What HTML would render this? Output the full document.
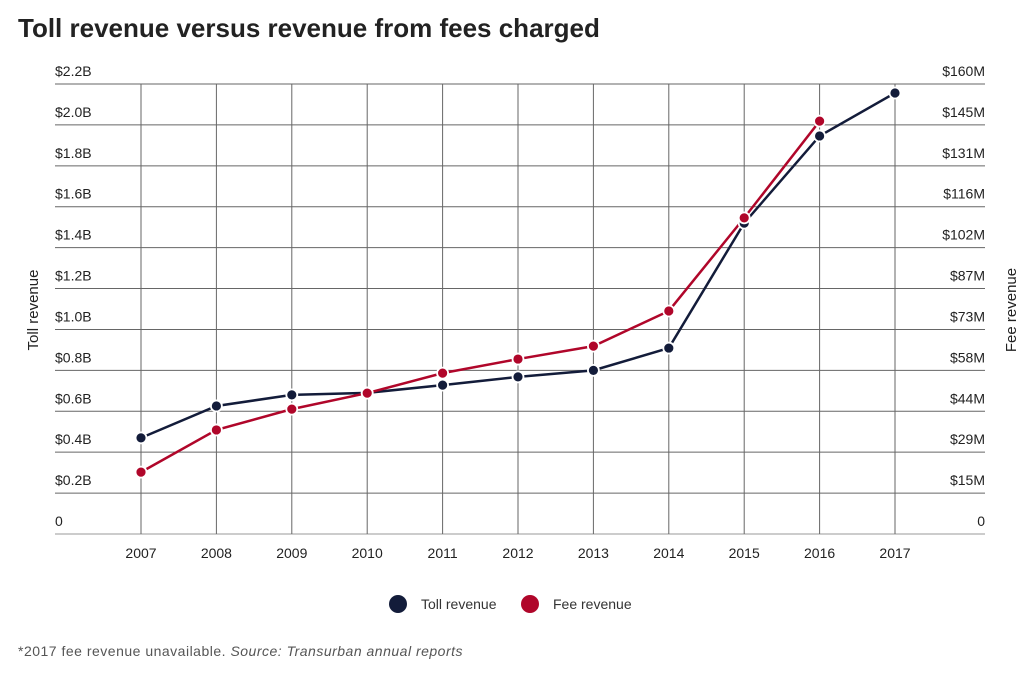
<!DOCTYPE html>
<html><head><meta charset="utf-8"><style>
body{margin:0;background:#fff;font-family:"Liberation Sans",sans-serif;}
#wrap{position:relative;width:1032px;height:672px;}
</style></head><body>
<div id="wrap">
<svg id="chart" width="1032" height="672" font-family="Liberation Sans, sans-serif">
<text x="18" y="37" font-size="26" font-weight="bold" fill="#222">Toll revenue versus revenue from fees charged</text>
<text transform="translate(38,310) rotate(-90)" text-anchor="middle" font-size="15" fill="#222">Toll revenue</text>
<text transform="translate(1016,310) rotate(-90)" text-anchor="middle" font-size="15" fill="#222">Fee revenue</text>
<g id="grid"></g><g id="lines"></g><g id="pts"></g><g id="labels"></g>
<g>
<circle cx="398" cy="604" r="9" fill="#131c3a"/>
<text x="421" y="609" font-size="14" fill="#333">Toll revenue</text>
<circle cx="530" cy="604" r="9" fill="#b0062a"/>
<text x="553" y="609" font-size="14" fill="#333">Fee revenue</text>
</g>
<text x="18" y="656" font-size="14" letter-spacing="0.5" fill="#555">*2017 fee revenue unavailable. <tspan font-style="italic">Source: Transurban annual reports</tspan></text>
</svg>
</div>
<script>
const years=[2007,2008,2009,2010,2011,2012,2013,2014,2015,2016,2017];
const tollValues=[0.47,0.626,0.68,0.69,0.728,0.768,0.80,0.909,1.52,1.946,2.156];
const feeValues=[22.0,37.0,44.4,50.1,57.2,62.2,66.8,79.3,112.4,146.8,null];
const leftTicks=["0","$0.2B","$0.4B","$0.6B","$0.8B","$1.0B","$1.2B","$1.4B","$1.6B","$1.8B","$2.0B","$2.2B"];
const rightTicks=["0","$15M","$29M","$44M","$58M","$73M","$87M","$102M","$116M","$131M","$145M","$160M"];
const NS="http://www.w3.org/2000/svg";
const X0=141,DX=75.4,YT=84,YB=534;
const xS=i=>X0+i*DX;
const yL=v=>YB-(v/2.2)*(YB-YT);
const yR=v=>YB-(v/160)*(YB-YT);
function mk(tag,attrs,parent){const e=document.createElementNS(NS,tag);for(const k in attrs)e.setAttribute(k,attrs[k]);document.getElementById(parent).appendChild(e);return e;}
for(let k=0;k<leftTicks.length;k++){
 const y=YB-k*(YB-YT)/11;
 const l=mk('line',{x1:55,x2:985,y1:y,y2:y,stroke:k==0?'#999':'#666','stroke-width':1},'grid');
 
 
 const t=mk('text',{x:55,y:y-8,'font-size':14,fill:'#222'},'labels');t.textContent=leftTicks[k];
 
 
 const r=mk('text',{x:985,y:y-8,'font-size':14,fill:'#222','text-anchor':'end'},'labels');r.textContent=rightTicks[k];
 
 
}
years.forEach((yr,i)=>{
 const l=mk('line',{x1:xS(i),x2:xS(i),y1:YT,y2:YB,stroke:'#666','stroke-width':1},'grid');
 
 
 const t=mk('text',{x:xS(i),y:558,'font-size':14,fill:'#222','text-anchor':'middle'},'labels');t.textContent=yr;
 
 
});
function series(vals,ys,color,name){
 const pts=[];vals.forEach((v,i)=>{if(v!=null)pts.push([xS(i),ys(v)]);});
 const p=mk('polyline',{points:pts.map(p=>p.join(',')).join(' '),fill:'none',stroke:color,'stroke-width':2.5},'lines');
 
 
 pts.forEach(q=>{const c=mk('circle',{cx:q[0],cy:q[1],r:5.5,fill:color,stroke:'#fff','stroke-width':1.8},'pts');
 
 });
}
series(tollValues,yL,'#131c3a','toll');
series(feeValues,yR,'#b0062a','fee');
</script>
</body></html>
